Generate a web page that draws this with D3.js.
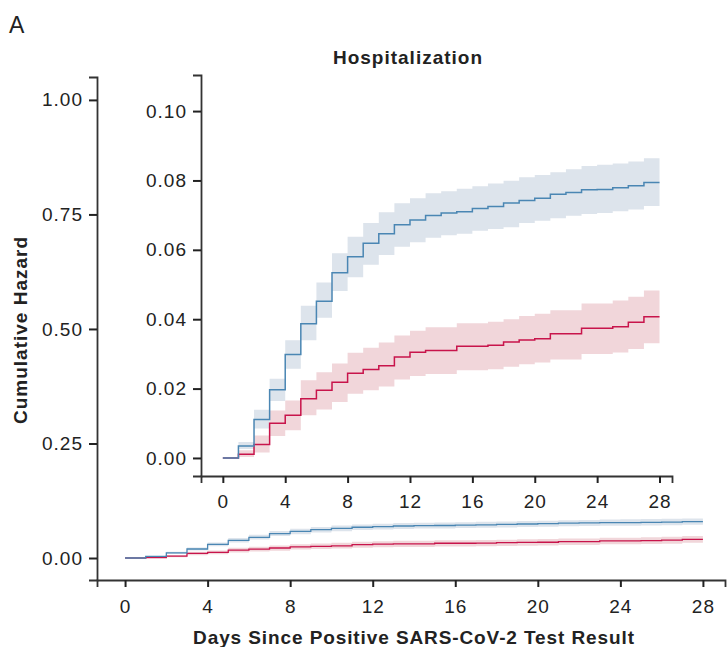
<!DOCTYPE html>
<html>
<head>
<meta charset="utf-8">
<script src="https://cdn.jsdelivr.net/npm/d3@7"></script>
<style>
  html, body { margin: 0; padding: 0; background: #fff; }
  svg { display: block; font-family: 'Liberation Sans', Arial, sans-serif; }
</style>
</head>
<body>
<div id="chart"></div>
<script>
// days since positive test, 0..28 (value holds from day d to d+1)
const days = d3.range(0, 29)
const xTicks = [0, 4, 8, 12, 16, 20, 24, 28]
const mainYTicks = [0, 0.25, 0.5, 0.75, 1]
const insetYTicks = [0, 0.02, 0.04, 0.06, 0.08, 0.1]

const blue = [0, 0.00345, 0.0111, 0.0197, 0.0298, 0.0387, 0.0452, 0.0534, 0.0580, 0.0619, 0.0646, 0.0672, 0.0686, 0.0699, 0.0706, 0.0710, 0.0719, 0.0725, 0.0735, 0.0742, 0.0749, 0.0760, 0.0765, 0.0773, 0.0774, 0.0779, 0.0785, 0.0794, 0.0794]
const blueLo = [0, 0.0026, 0.0085, 0.0164, 0.0257, 0.0339, 0.0404, 0.0481, 0.0521, 0.0557, 0.0585, 0.0609, 0.0622, 0.0635, 0.0642, 0.0646, 0.0655, 0.0660, 0.0665, 0.0677, 0.0684, 0.0691, 0.0698, 0.0703, 0.0706, 0.0711, 0.0716, 0.0726, 0.0726]
const blueHi = [0, 0.0046, 0.0139, 0.0228, 0.0339, 0.0439, 0.0506, 0.0590, 0.0638, 0.0677, 0.0708, 0.0734, 0.0749, 0.0763, 0.0769, 0.0776, 0.0783, 0.0791, 0.0799, 0.0809, 0.0816, 0.0824, 0.0832, 0.0842, 0.0845, 0.0849, 0.0855, 0.0864, 0.0864]

const red = [0, 0.00106, 0.0039, 0.0100, 0.0123, 0.0171, 0.0195, 0.0218, 0.0244, 0.0255, 0.0266, 0.0291, 0.0305, 0.0310, 0.0310, 0.0322, 0.0322, 0.0325, 0.0334, 0.0340, 0.0344, 0.0358, 0.0358, 0.0374, 0.0374, 0.0378, 0.0391, 0.0407, 0.0407]
const redLo = [0, 0.0003, 0.0016, 0.0063, 0.0080, 0.0123, 0.0140, 0.0161, 0.0185, 0.0195, 0.0206, 0.0226, 0.0236, 0.0242, 0.0242, 0.0253, 0.0253, 0.0256, 0.0263, 0.0270, 0.0275, 0.0284, 0.0284, 0.0300, 0.0300, 0.0304, 0.0314, 0.0331, 0.0331]
const redHi = [0, 0.0022, 0.0065, 0.0137, 0.0166, 0.0224, 0.0247, 0.0272, 0.0303, 0.0318, 0.0333, 0.0353, 0.0367, 0.0377, 0.0377, 0.0388, 0.0388, 0.0393, 0.0400, 0.0409, 0.0416, 0.0426, 0.0426, 0.0445, 0.0445, 0.0454, 0.0465, 0.0483, 0.0483]

const W = 727, H = 647
const axisColor = '#333'
const textColor = '#222'
const font = "'Liberation Sans', Arial, sans-serif"
const series = [
  { v: red, lo: redLo, hi: redHi, line: '#c8144b', band: '#f1d6da' },
  { v: blue, lo: blueLo, hi: blueHi, line: '#4a86b3', band: '#dde4ec' }
]

const svg = d3.select('#chart').append('svg')
  .attr('width', W).attr('height', H)

// panel letter + title
svg.append('text').attr('x', 9).attr('y', 33)
  .attr('font-size', 23).attr('fill', textColor).text('A')
svg.append('text').attr('x', 408).attr('y', 64)
  .attr('text-anchor', 'middle').attr('font-size', 19).attr('font-weight', 700)
  .attr('letter-spacing', 1).attr('fill', textColor).text('Hospitalization')

function drawPanel(x, y, yTicks, lineW, xPad) {
  const g = svg.append('g')
  const area = (s) => d3.area()
    .curve(d3.curveStepAfter)
    .x(d => x(d)).y0(d => y(s.lo[d])).y1(d => y(s.hi[d]))
  const line = (s) => d3.line()
    .curve(d3.curveStepAfter)
    .x(d => x(d)).y(d => y(s.v[d]))

  series.forEach(s => {
    g.append('path').datum(days).attr('d', area(s)).attr('fill', s.band)
  })
  series.forEach(s => {
    g.append('path').datum(days).attr('d', line(s))
      .attr('fill', 'none').attr('stroke', s.line).attr('stroke-width', lineW)
  })

  const xAxis = g.append('g')
    .attr('transform', `translate(0,${y.range()[0]})`)
    .call(d3.axisBottom(x).tickValues(xTicks).tickSizeOuter(0).tickSize(7).tickPadding(xPad))
  const yAxis = g.append('g')
    .attr('transform', `translate(${x.range()[0]},0)`)
    .call(d3.axisLeft(y).tickValues(yTicks).tickFormat(d3.format('.2f')).tickSizeOuter(0).tickSize(8).tickPadding(6))

  ;[xAxis, yAxis].forEach(a => {
    a.attr('font-size', 19).attr('font-family', font)
    a.select('.domain').attr('stroke', axisColor).attr('stroke-width', 1.8)
    a.selectAll('.tick line').attr('stroke', textColor).attr('stroke-width', 2)
    a.selectAll('.tick text').attr('fill', textColor).attr('letter-spacing', 1)
  })
  return g
}

// main panel
const xMain = d3.scaleLinear().domain([-1.36, 29.07]).range([97, 725])
const yMain = d3.scaleLinear().domain([-0.048, 1.05]).range([580, 77])
drawPanel(xMain, yMain, mainYTicks, 1.3, 13)

// inset panel
const xIn = d3.scaleLinear().domain([-1.4, 28.8]).range([201, 672])
const yIn = d3.scaleLinear().domain([-0.0052, 0.1104]).range([476, 75])
drawPanel(xIn, yIn, insetYTicks, 1.5, 12)

// axis titles
svg.append('text').attr('x', 414).attr('y', 644)
  .attr('text-anchor', 'middle').attr('font-size', 19).attr('font-weight', 700)
  .attr('letter-spacing', 0.9).attr('fill', textColor)
  .text('Days Since Positive SARS-CoV-2 Test Result')
svg.append('text')
  .attr('transform', 'translate(27,330) rotate(-90)')
  .attr('text-anchor', 'middle').attr('font-size', 19).attr('font-weight', 700)
  .attr('letter-spacing', 1).attr('fill', textColor).text('Cumulative Hazard')
</script>
</body>
</html>
